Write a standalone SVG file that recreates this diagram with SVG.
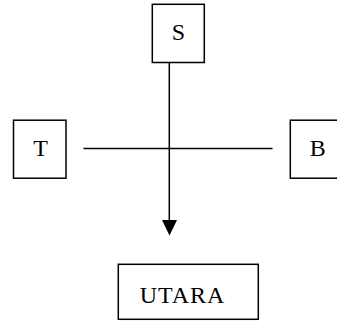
<svg xmlns="http://www.w3.org/2000/svg" width="337" height="322" viewBox="0 0 337 322">
<style>
.box{fill:#fff;stroke:#000;stroke-width:1.5}
.lbl{font-family:"Liberation Serif","Times New Roman",serif;font-size:24px;fill:#000;text-anchor:middle}
.ln{stroke:#000;stroke-width:1.5;fill:none}
</style>
<rect width="337" height="322" fill="#fff"/>
<g id="connectors">
<line class="ln" x1="169.3" y1="62.5" x2="169.3" y2="221"/>
<polygon points="162,220 177,220 169.5,235.5" fill="#000"/>
<line class="ln" x1="83.5" y1="148.5" x2="272.5" y2="148.5"/>
</g>
<g id="node-S">
<rect class="box" x="152.3" y="4.3" width="52" height="58.2"/>
<text class="lbl" x="178.5" y="39.5">S</text>
</g>
<g id="node-T">
<rect class="box" x="13.5" y="120.2" width="52.5" height="58"/>
<text class="lbl" x="40.5" y="155.7">T</text>
</g>
<g id="node-B">
<rect class="box" x="290.3" y="120.2" width="52.5" height="58"/>
<text class="lbl" x="317.7" y="155.7">B</text>
</g>
<g id="node-UTARA">
<rect class="box" x="118.3" y="264.3" width="140" height="55"/>
<text class="lbl" x="182.5" y="302.5" letter-spacing="1">UTARA</text>
</g>
</svg>
